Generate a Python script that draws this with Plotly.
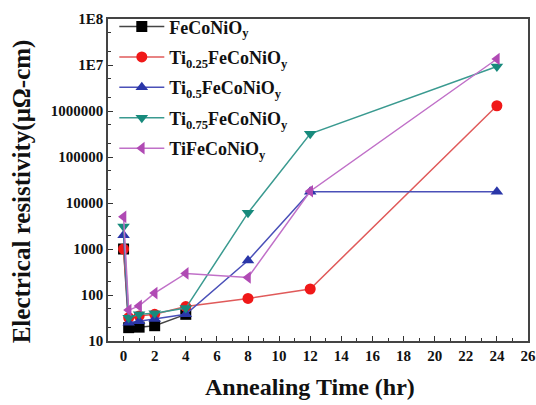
import plotly.graph_objects as go

# Data
x_fecconi = [0, 0.33, 1, 2, 4]
y_fecconi = [1000, 19.5, 20, 21.5, 38]

x_ti025 = [0, 0.33, 1, 2, 4, 8, 12, 24]
y_ti025 = [1000, 32, 35, 38, 56, 84, 135, 1300000]

x_ti05 = [0, 0.33, 1, 2, 4, 8, 12, 24]
y_ti05 = [2000, 25, 27, 30, 38, 560, 17500, 17500]

x_ti075 = [0, 0.33, 1, 2, 4, 8, 12, 24]
y_ti075 = [3100, 32, 38, 40, 52, 6100, 320000, 9300000]

x_ti1 = [0, 0.33, 1, 2, 4, 8, 12, 24]
y_ti1 = [5000, 47, 58, 110, 295, 240, 18000, 13500000]

names = [
    "FeCoNiO<sub>y</sub>",
    "Ti<sub>0.25</sub>FeCoNiO<sub>y</sub>",
    "Ti<sub>0.5</sub>FeCoNiO<sub>y</sub>",
    "Ti<sub>0.75</sub>FeCoNiO<sub>y</sub>",
    "TiFeCoNiO<sub>y</sub>",
]

x_ticks = list(range(0, 27, 2))
y_tickvals = [10, 100, 1000, 10000, 100000, 1000000, 1e7, 1e8]
y_ticktext = ["10", "100", "1000", "10000", "100000", "1000000", "1E7", "1E8"]

x_title = "Annealing Time (hr)"
y_title = "Electrical resistivity(μΩ-cm)"

series = [
    (x_fecconi, y_fecconi, "#000000", "#444444", "square"),
    (x_ti025, y_ti025, "#f01818", "#e05a5a", "circle"),
    (x_ti05, y_ti05, "#2a36a8", "#4a50b8", "triangle-up"),
    (x_ti075, y_ti075, "#178a7c", "#3a9a90", "triangle-down"),
    (x_ti1, y_ti1, "#b04ab4", "#c070c8", "triangle-left"),
]

fig = go.Figure()
for i, ((xs, ys, mcol, lcol, sym), nm) in enumerate(zip(series, names)):
    fig.add_trace(go.Scatter(
        x=xs, y=ys, name=nm, mode="lines+markers", legendgroup=f"g{i}",
        line=dict(color=lcol, width=1.5),
        marker=dict(symbol=sym, size=11, color=mcol),
    ))

font_family = "Liberation Serif"
fig.update_layout(
    width=536, height=405,
    margin=dict(l=108, r=8, t=14, b=64),
    paper_bgcolor="white", plot_bgcolor="white",
    font=dict(family=font_family, color="#111111"),
    showlegend=True,
    legend=dict(
        x=0.015, y=1.033, xanchor="left", yanchor="top",
        bgcolor="rgba(0,0,0,0)", borderwidth=0,
        font=dict(family=font_family, size=18, color="#111111", weight="bold"),
        itemwidth=45, tracegroupgap=4,
    ),
    annotations=[
        dict(text=x_title, xref="paper", yref="paper", x=0.481, y=-0.1437,
             xanchor="center", yanchor="middle", showarrow=False,
             font=dict(family=font_family, size=24, weight="bold", color="#111111")),
        dict(text=y_title, xref="paper", yref="paper", x=-0.2048, y=0.4648,
             xanchor="center", yanchor="middle", showarrow=False, textangle=-90,
             font=dict(family=font_family, size=25, weight="bold", color="#111111")),
    ],
)
fig.update_xaxes(
    range=[-1, 26], tickvals=x_ticks, ticks="inside", ticklen=5,
    tickcolor="#333333", tickwidth=1.2, ticklabeloverflow="allow",
    minor=dict(dtick=1, ticks="inside", ticklen=3, tickcolor="#333333"),
    showgrid=False, zeroline=False, automargin=False,
    showline=True, mirror=True, linecolor="#444444", linewidth=1.5,
    tickfont=dict(family=font_family, size=15, weight="bold"),
)
fig.update_yaxes(
    type="log", range=[1, 8], tickvals=y_tickvals, ticktext=y_ticktext,
    ticks="inside", ticklen=5, tickcolor="#333333", tickwidth=1.2,
    ticklabeloverflow="allow",
    minor=dict(ticks="inside", ticklen=3, tickcolor="#333333"),
    showgrid=False, zeroline=False, automargin=False,
    showline=True, mirror=True, linecolor="#444444", linewidth=1.5,
    tickfont=dict(family=font_family, size=15, weight="bold"),
)

fig.write_html(
    "out.html",
    config={"displayModeBar": False},
    post_script="document.body.style.margin='0';document.body.style.overflow='hidden';",
)
